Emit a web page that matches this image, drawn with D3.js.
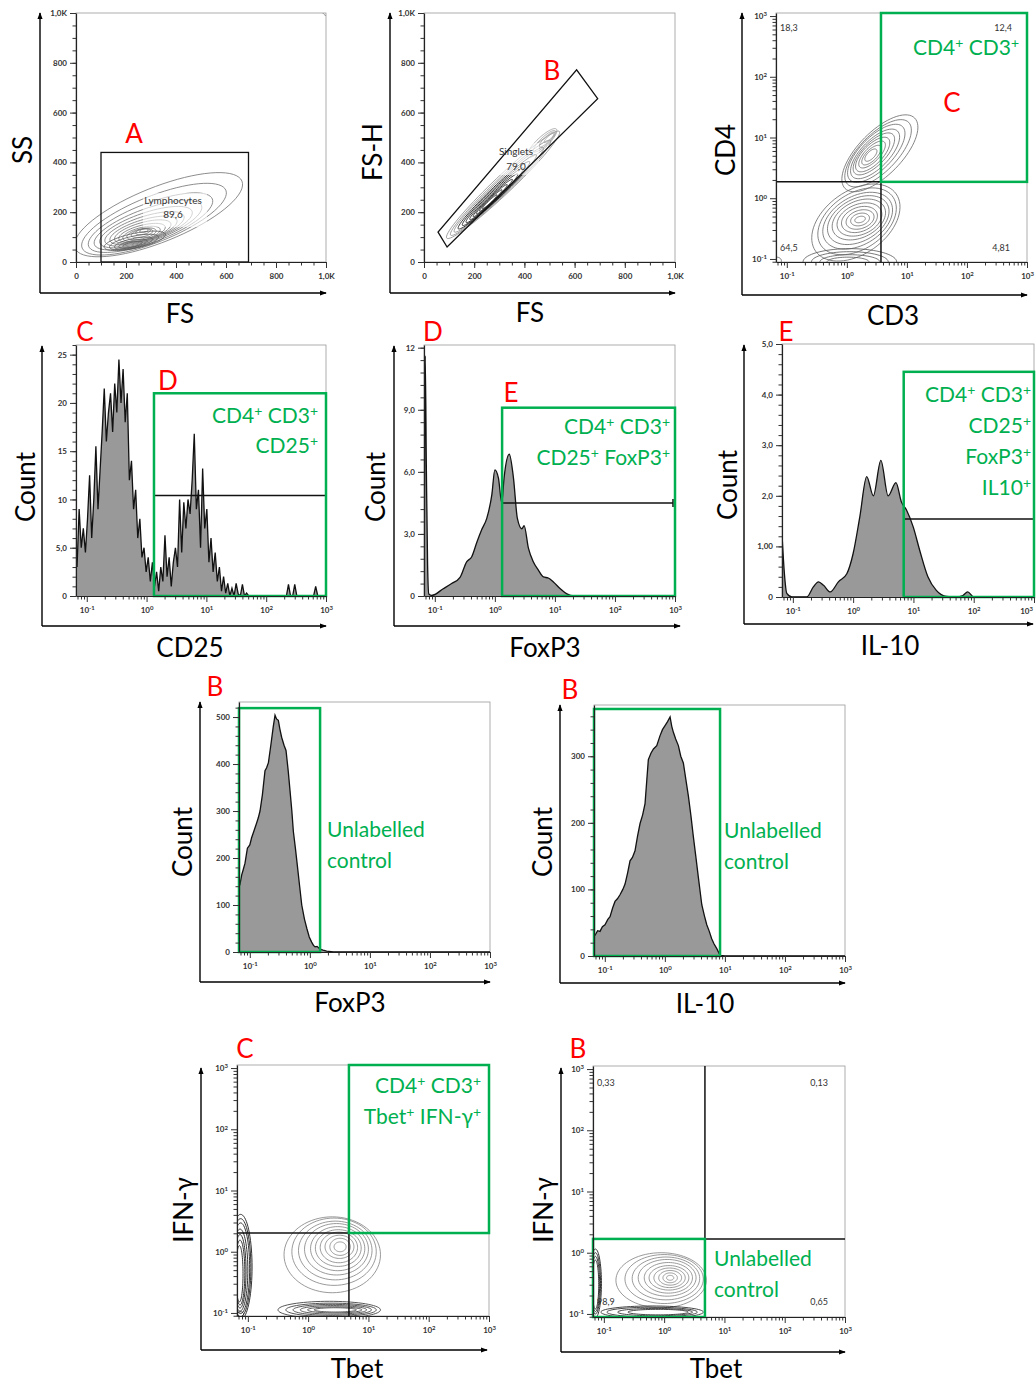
<!DOCTYPE html>
<html>
<head>
<meta charset="utf-8">
<title>Flow cytometry gating</title>
<style>
  body { margin: 0; background: #fff; }
  svg text { font-family: Lato, "Open Sans", sans-serif; }
</style>
</head>
<body>
<script src="https://cdn.jsdelivr.net/npm/d3@7"></script>
<script>

// ---------- values ----------
var linMajor = [0, 200, 400, 600, 800, 1000];
var linMajorLabels = ["0", "200", "400", "600", "800", "1,0K"];
var logMajor = [0.1, 1, 10, 100, 1000];

// gates (data units)
var gateA = [100, 690, 0, 440];                       // FS from,to  SS from,to
var gateB = [[56, 120], [92, 60], [692, 656], [608, 772]];
var cd3Quad = [3.7, 1.86];                            // CD3, CD4 split
var cd25Gate = [1.33, 21, 10.4];                      // from, box top, marker height
var foxp3Gate = [1.32, 9.1, 4.5];
var il10Gate = [6.9, 4.45, 1.54];
var foxp3CtlGate = [1.48, 519];
var il10CtlGate = [8.3, 371];
var tbetQuad = [4.75, 2.02];
var tbetCtlQuad = [4.75, 1.68];

// quadrant percentages
var cd3Pct = ["18,3", "12,4", "64,5", "4,81"];
var tbetCtlPct = ["0,33", "0,13", "98,9", "0,65"];

// contour rings: [centre x, centre y, radius x, radius y, tilt deg]
// FS/SS in linear units, fluorescence panels in log10 units
var fsSsRings = [
  [330, 190, 360, 110, 22], [312, 172, 310, 92, 22], [298, 158, 265, 78, 21],
  [288, 148, 228, 66, 20], [280, 140, 195, 57, 19], [274, 133, 166, 49, 18],
  [270, 127, 140, 42, 17], [267, 122, 117, 36, 16], [264, 117, 96, 30, 15],
  [262, 113, 77, 25, 14], [262, 113, 60, 20, 13], [264, 116, 44, 15, 12],
  [268, 122, 30, 11, 12], [272, 126, 17, 7, 12]
];
var fsSsDense = [
  [235, 85, 125, 30, 12], [232, 80, 100, 24, 12], [230, 76, 78, 18, 12],
  [228, 73, 58, 13, 12], [226, 71, 40, 9, 12]
];
var fsSsCorner = [[1015, 1010, 30, 24, 0], [1015, 1010, 18, 14, 0]];

var singletRings = [
  [315, 310, 310, 36, 43.7], [305, 298, 275, 31, 43.7], [298, 290, 245, 27, 43.7],
  [292, 282, 215, 23, 43.7], [287, 275, 185, 20, 43.7], [282, 268, 158, 17, 43.7],
  [278, 262, 132, 14, 43.7], [274, 257, 108, 11, 43.7], [270, 252, 85, 9, 43.7],
  [266, 247, 62, 7, 43.7], [262, 242, 40, 5, 43.7]
];
var singletUpper = [[470, 478, 80, 22, 44], [480, 485, 60, 16, 44], [490, 492, 42, 11, 44], [498, 498, 26, 7, 44]];

var cd4Upper = [
  [0.55, 0.74, 0.82, 0.36, 45], [0.52, 0.74, 0.72, 0.31, 45], [0.49, 0.74, 0.62, 0.27, 45],
  [0.47, 0.73, 0.53, 0.23, 45], [0.45, 0.73, 0.45, 0.19, 45], [0.43, 0.72, 0.37, 0.16, 45],
  [0.42, 0.72, 0.29, 0.12, 45], [0.41, 0.71, 0.21, 0.09, 45], [0.40, 0.71, 0.13, 0.06, 45]
];
var cd4Lower = [
  [0.15, -0.40, 0.82, 0.52, 35], [0.17, -0.38, 0.72, 0.46, 33], [0.18, -0.37, 0.63, 0.40, 30],
  [0.19, -0.36, 0.55, 0.35, 28], [0.20, -0.35, 0.47, 0.30, 25], [0.21, -0.35, 0.39, 0.25, 22],
  [0.21, -0.35, 0.31, 0.20, 20], [0.22, -0.35, 0.24, 0.15, 18], [0.22, -0.35, 0.16, 0.10, 15],
  [0.22, -0.35, 0.09, 0.05, 15]
];
var cd4Bottom = [
  [0.05, -1.05, 0.78, 0.22, 0], [0.05, -1.05, 0.64, 0.17, 0], [0.05, -1.05, 0.50, 0.12, 0],
  [0.02, -1.05, 0.35, 0.08, 0], [-1.17, -1.03, 0.08, 0.06, 0]
];

var tbetMain = [
  [0.40, -0.05, 0.80, 0.62, 0], [0.43, 0.00, 0.70, 0.55, 0], [0.45, 0.02, 0.61, 0.48, 0],
  [0.47, 0.04, 0.53, 0.42, 0], [0.49, 0.05, 0.45, 0.36, 0], [0.50, 0.06, 0.38, 0.30, 0],
  [0.51, 0.07, 0.31, 0.25, 0], [0.52, 0.08, 0.24, 0.19, 0], [0.53, 0.08, 0.17, 0.14, 0],
  [0.53, 0.08, 0.10, 0.08, 0]
];
var tbetBottom = [
  [0.35, -0.95, 0.85, 0.14, 0], [0.38, -0.95, 0.75, 0.11, 0], [0.40, -0.95, 0.65, 0.09, 0],
  [0.42, -0.95, 0.55, 0.07, 0], [0.44, -0.95, 0.45, 0.05, 0], [0.45, -0.95, 0.35, 0.035, 0]
];
var tbetLeft = [
  [-1.12, -0.25, 0.19, 0.86, 0], [-1.12, -0.26, 0.17, 0.80, 0], [-1.12, -0.27, 0.15, 0.74, 0],
  [-1.13, -0.30, 0.13, 0.67, 0], [-1.13, -0.32, 0.10, 0.60, 0], [-1.13, -0.34, 0.08, 0.53, 0],
  [-1.14, -0.36, 0.06, 0.46, 0], [-1.12, -1.02, 0.05, 0.04, 0]
];

var ctlMain = [
  [-0.05, -0.45, 0.75, 0.45, 0], [0.00, -0.43, 0.65, 0.40, 0], [0.03, -0.42, 0.56, 0.35, 0],
  [0.05, -0.41, 0.48, 0.30, 0], [0.07, -0.41, 0.40, 0.25, 0], [0.08, -0.41, 0.33, 0.20, 0],
  [0.09, -0.41, 0.26, 0.16, 0], [0.10, -0.41, 0.19, 0.12, 0], [0.10, -0.41, 0.12, 0.08, 0],
  [0.10, -0.41, 0.06, 0.04, 0]
];
var ctlBottom = [
  [-0.20, -0.97, 0.85, 0.10, 0], [-0.20, -0.97, 0.75, 0.08, 0], [-0.15, -0.97, 0.62, 0.06, 0],
  [-0.10, -0.97, 0.50, 0.045, 0]
];
var ctlLeft = [
  [-1.14, -0.50, 0.10, 0.56, 0], [-1.14, -0.50, 0.085, 0.50, 0], [-1.14, -0.51, 0.07, 0.45, 0],
  [-1.14, -0.52, 0.055, 0.40, 0]
];

// CD25 histogram: counts in log10 bins starting at -1.18, 0.035 wide
var cd25Start = -1.18, cd25Width = 0.035;
var cd25Counts = [
  3, 9, 5, 7, 4.5, 8, 12.5, 6, 10, 15.5,
  9, 13, 17, 21.5, 16, 19, 21, 17, 22, 19,
  24.5, 20, 23.5, 18, 21, 12, 14, 9, 11, 6,
  8, 4, 5, 2.5, 4, 1.5, 3.5, 1, 2.5, 0.5,
  3, 1.5, 6.3, 2, 4, 1, 3.5, 5, 3, 10,
  4.5, 9.7, 7, 10, 8.5, 12, 16.8, 9, 11, 5,
  13.2, 7, 9, 3.5, 6, 2.5, 4.5, 1.5, 3, 0.5,
  2, 0.3, 1.3, 0, 0.8, 0, 1.3, 0.2, 0, 1.2,
  0, 0.3, 0, 0, 0, 0, 0, 0, 0, 0,
  0, 0, 0, 0, 0, 0, 0, 0, 0, 0,
  0, 1.2, 0, 0, 1.2, 0, 0, 0, 0, 0,
  0, 0, 0, 0, 1.0, 0, 0, 0, 0, 0
];

// smooth histograms: [log10 value, count]
var foxp3Hist = [
  [-1.18, 0], [-1.17, 6], [-1.16, 11.6], [-1.14, 6], [-1.12, 1.5], [-1.1, 0.1], [-1.05, 0.03],
  [-0.86, 0.35], [-0.72, 0.6], [-0.58, 0.9], [-0.47, 1.65], [-0.385, 1.9], [-0.30, 2.6],
  [-0.22, 3.2], [-0.135, 3.75], [-0.05, 4.9], [0.0, 6.1], [0.06, 5.7], [0.115, 4.5],
  [0.153, 5.7], [0.24, 6.85], [0.31, 5.7], [0.375, 3.75], [0.45, 3.25], [0.487, 3.4],
  [0.56, 2.3], [0.64, 1.65], [0.725, 1.25], [0.81, 0.92], [0.89, 0.87], [0.975, 0.68],
  [1.09, 0.35], [1.2, 0.1], [1.31, 0], [3, 0]
];
var il10Hist = [
  [-1.18, 1.25], [-1.14, 0.46], [-1.10, 0.07], [-1.015, 0], [-0.77, 0], [-0.66, 0.2],
  [-0.575, 0.3], [-0.49, 0.23], [-0.38, 0.1], [-0.245, 0.3], [-0.105, 0.46], [0.0, 0.86],
  [0.11, 1.58], [0.225, 2.38], [0.335, 2.0], [0.46, 2.7], [0.58, 2.0], [0.71, 2.26],
  [0.80, 1.88], [0.885, 1.72], [0.995, 1.39], [1.105, 0.92], [1.24, 0.4], [1.38, 0.13],
  [1.55, 0.01], [1.71, 0], [1.82, 0.03], [1.9, 0.1], [2.0, 0], [3, 0]
];
var foxp3CtlHist = [
  [-1.18, 140], [-1.165, 143], [-1.135, 164], [-1.11, 175], [-1.08, 189], [-1.06, 205],
  [-1.04, 221], [-1.0, 228], [-0.97, 243], [-0.93, 258], [-0.885, 275], [-0.86, 285],
  [-0.83, 300], [-0.79, 335], [-0.747, 386], [-0.72, 392], [-0.69, 403], [-0.65, 440],
  [-0.61, 479], [-0.58, 504], [-0.555, 496], [-0.525, 493], [-0.5, 475], [-0.47, 457],
  [-0.43, 440], [-0.397, 429], [-0.36, 385], [-0.33, 343], [-0.3, 300], [-0.275, 257],
  [-0.24, 220], [-0.21, 186], [-0.17, 140], [-0.135, 100], [-0.09, 70], [-0.05, 50],
  [-0.01, 32], [0.03, 21], [0.06, 14], [0.087, 11], [0.12, 12], [0.17, 6], [0.22, 4],
  [0.28, 2], [0.39, 0], [3, 0]
];
var il10CtlHist = [
  [-1.18, 30], [-1.163, 31], [-1.12, 38], [-1.08, 37], [-1.04, 44], [-0.997, 47], [-0.95, 55],
  [-0.913, 59], [-0.87, 72], [-0.83, 82], [-0.79, 86], [-0.747, 92], [-0.70, 100],
  [-0.663, 108], [-0.62, 125], [-0.58, 143], [-0.54, 148], [-0.497, 158], [-0.455, 180],
  [-0.413, 199], [-0.37, 212], [-0.33, 229], [-0.30, 265], [-0.275, 295], [-0.23, 305],
  [-0.19, 311], [-0.135, 316], [-0.08, 331], [-0.04, 340], [0.003, 346], [0.045, 352],
  [0.087, 359], [0.115, 345], [0.142, 336], [0.18, 326], [0.225, 316], [0.265, 300],
  [0.308, 290], [0.35, 265], [0.392, 240], [0.435, 210], [0.475, 179], [0.515, 150],
  [0.558, 118], [0.615, 77], [0.66, 60], [0.698, 47], [0.74, 37], [0.78, 26], [0.82, 18],
  [0.865, 11], [0.92, 1], [1.0, 0], [3, 0]
];

// ---------- drawing ----------
var GREEN = "#00b050", RED = "#ff0000";
var logDomX = [Math.pow(10, -1.18), 1000];
var logDomY = [Math.pow(10, -1.05), Math.pow(10, 3.05)];

var svg = d3.select("body").append("svg").attr("width", 1036).attr("height", 1383);
var defs = svg.append("defs");
defs.append("marker").attr("id", "arrow")
    .attr("viewBox", "0 0 8 6").attr("refX", 7).attr("refY", 3)
    .attr("markerWidth", 7).attr("markerHeight", 6).attr("markerUnits", "userSpaceOnUse")
    .attr("orient", "auto")
  .append("path").attr("d", "M0,0L8,3L0,6Z").attr("fill", "#000");

var clipCount = 0;

function logMinors(dom) {
  var out = [];
  for (var k = -2; k < 3; k++)
    for (var m = 2; m < 10; m++) {
      var v = m * Math.pow(10, k);
      if (v >= dom[0] && v <= dom[1]) out.push(v);
    }
  return out;
}

function axis(g, c, scale, isX, major, labels, minorStep) {
  var make = isX ? d3.axisBottom : d3.axisLeft;
  var pos = isX ? "translate(0," + c.y1 + ")" : "translate(" + c.x0 + ",0)";
  var dom = scale.domain();
  var minors = labels === "log" ? logMinors(dom) : d3.range(dom[0], dom[1] + 1e-9, minorStep);
  g.append("g").attr("transform", pos)
      .call(make(scale).tickValues(minors).tickSize(3.5).tickSizeOuter(0).tickFormat(""))
      .call(s => s.select(".domain").remove())
      .selectAll("line").attr("stroke", "#333");
  var a = g.append("g").attr("transform", pos)
      .call(make(scale).tickValues(major).tickSize(6).tickSizeOuter(0).tickPadding(isX ? 5 : 3)
        .tickFormat((d, i) => labels === "log" ? "" : labels[i]));
  a.attr("font-family", "'Liberation Sans', Arial, sans-serif").attr("font-size", 8)
   .attr("font-weight", "bold").attr("color", "#333");
  a.select(".domain").attr("stroke", "#222").attr("stroke-width", 1.2);
  if (labels === "log") {
    a.selectAll(".tick text").each(function (d) {
      var t = d3.select(this);
      t.append("tspan").text("10");
      t.append("tspan").attr("dy", "-0.45em").attr("font-size", "6px").text(Math.round(Math.log10(d)));
      // the last label sits on the page edge in the IL-10 panel
      if (isX && d === 1000 && c.x1 > 1030) t.attr("x", -8);
    });
  }
}

function panel(c) {
  var x = c.xLog ? d3.scaleLog().domain(logDomX).range([c.x0, c.x1])
                 : d3.scaleLinear().domain(c.xDom).range([c.x0, c.x1]);
  var y = c.yLog ? d3.scaleLog().domain(logDomY).range([c.y1, c.y0])
                 : d3.scaleLinear().domain(c.yDom).range([c.y1, c.y0]);
  var g = svg.append("g");
  var id = "clip" + (++clipCount);
  defs.append("clipPath").attr("id", id).append("rect")
      .attr("x", c.x0).attr("y", c.y0).attr("width", c.x1 - c.x0).attr("height", c.y1 - c.y0);
  g.append("rect").attr("x", c.x0).attr("y", c.y0)
      .attr("width", c.x1 - c.x0).attr("height", c.y1 - c.y0)
      .attr("fill", "none").attr("stroke", "#9a9a9a").attr("stroke-width", 0.8);
  var plot = g.append("g").attr("clip-path", "url(#" + id + ")");
  var over = g.append("g");

  axis(g, c, x, true, c.xLog ? logMajor : linMajor, c.xLog ? "log" : linMajorLabels, 50);
  axis(g, c, y, false, c.yTicks, c.yLabels, c.yMinor);

  // outer arrow axes
  g.append("path").attr("d", "M" + c.ax + "," + c.ay + "V" + c.top)
      .attr("stroke", "#000").attr("stroke-width", 1.4).attr("marker-end", "url(#arrow)");
  g.append("path").attr("d", "M" + c.ax + "," + c.ay + "H" + c.right)
      .attr("stroke", "#000").attr("stroke-width", 1.4).attr("marker-end", "url(#arrow)");

  g.append("text").attr("transform", "translate(" + c.yt[0] + "," + c.yt[1] + ") rotate(-90)")
      .attr("text-anchor", "middle").attr("dominant-baseline", "central")
      .attr("font-size", 26).text(c.yTitle);
  g.append("text").attr("x", c.xt[0]).attr("y", c.xt[1])
      .attr("text-anchor", "middle").attr("dominant-baseline", "central")
      .attr("font-size", 26).text(c.xTitle);
  return {g: g, plot: plot, over: over, x: x, y: y};
}

function ringPath(r, x, y, log) {
  var a = r[4] * Math.PI / 180;
  var pts = d3.range(72).map(function (i) {
    var t = i / 72 * 2 * Math.PI;
    var u = r[0] + r[2] * Math.cos(t) * Math.cos(a) - r[3] * Math.sin(t) * Math.sin(a);
    var v = r[1] + r[2] * Math.cos(t) * Math.sin(a) + r[3] * Math.sin(t) * Math.cos(a);
    return log ? [x(Math.pow(10, u)), y(Math.pow(10, v))] : [x(u), y(v)];
  });
  return d3.line().curve(d3.curveCardinalClosed)(pts);
}

function rings(p, data, log, color, width) {
  p.plot.append("g").selectAll("path").data(data).join("path")
      .attr("d", r => ringPath(r, p.x, p.y, log))
      .attr("fill", "none").attr("stroke", color).attr("stroke-width", width);
}

function hist(p, pts, curve) {
  var xs = d => p.x(Math.pow(10, d[0]));
  p.plot.append("path").datum(pts)
      .attr("d", d3.area().x(xs).y0(p.y(0)).y1(d => p.y(d[1])).curve(curve))
      .attr("fill", "#999");
  p.plot.append("path").datum(pts)
      .attr("d", d3.line().x(xs).y(d => p.y(d[1])).curve(curve))
      .attr("fill", "none").attr("stroke", "#111").attr("stroke-width", 1.3);
}

function rich(sel, str) {
  // every "+" is written as a raised, smaller plus
  var parts = str.split("+");
  parts.forEach(function (s, i) {
    if (s) sel.append("tspan").attr("dy", i > 0 ? "7px" : null).text(s);
    if (i < parts.length - 1)
      sel.append("tspan").attr("font-size", "14px").attr("dy", "-7px").text("+");
  });
}

function greenText(x, y, lines, anchor) {
  lines.forEach(function (s, i) {
    var t = svg.append("text").attr("x", x).attr("y", y[i] + 7)
        .attr("text-anchor", anchor).attr("font-size", 21).attr("fill", GREEN);
    rich(t, s);
  });
}

function redLetter(x, y, s) {
  svg.append("text").attr("x", x).attr("y", y).attr("text-anchor", "middle")
      .attr("dominant-baseline", "central").attr("font-size", 26).attr("fill", RED).text(s);
}

function smallText(x, y, s, anchor, size) {
  svg.append("text").attr("x", x).attr("y", y).attr("text-anchor", anchor || "start")
      .attr("dominant-baseline", "central").attr("font-size", size || 9)
      .attr("font-family", "'Liberation Sans', Arial, sans-serif").attr("fill", "#333").text(s);
}

function greenRect(p, x0, x1, y0, y1) {
  p.over.append("rect").attr("x", Math.min(x0, x1)).attr("y", Math.min(y0, y1))
      .attr("width", Math.abs(x1 - x0)).attr("height", Math.abs(y1 - y0))
      .attr("fill", "none").attr("stroke", GREEN).attr("stroke-width", 2.5);
}

function blackLine(p, x0, y0, x1, y1) {
  p.over.append("line").attr("x1", x0).attr("y1", y0).attr("x2", x1).attr("y2", y1)
      .attr("stroke", "#111").attr("stroke-width", 1.5);
}

var logPanel = {xLog: true, yLog: true, yTicks: logMajor, yLabels: "log"};

// 1. FS / SS
var p1 = panel({x0: 76, x1: 326, y0: 13, y1: 262, xDom: [0, 1000], yDom: [0, 1000],
  yTicks: linMajor, yLabels: linMajorLabels, yMinor: 50,
  ax: 40, ay: 293, top: 13, right: 326, yt: [22, 150], xt: [180, 313], yTitle: "SS", xTitle: "FS"});
rings(p1, fsSsRings, false, "#707070", 0.8);
rings(p1, fsSsDense, false, "#555", 0.8);
rings(p1, fsSsCorner, false, "#777", 0.8);
p1.plot.append("rect").attr("x", 143).attr("y", 193).attr("width", 64).attr("height", 34)
    .attr("fill", "#fff").attr("opacity", 0.6);
p1.over.append("rect").attr("x", p1.x(gateA[0])).attr("y", p1.y(gateA[3]))
    .attr("width", p1.x(gateA[1]) - p1.x(gateA[0])).attr("height", p1.y(gateA[2]) - p1.y(gateA[3]))
    .attr("fill", "none").attr("stroke", "#111").attr("stroke-width", 1.3);
smallText(173, 200, "Lymphocytes", "middle", 10);
smallText(173, 214, "89,6", "middle", 10);
redLetter(134, 133, "A");

// 2. FS / FS-H
var p2 = panel({x0: 424, x1: 675, y0: 13, y1: 262, xDom: [0, 1000], yDom: [0, 1000],
  yTicks: linMajor, yLabels: linMajorLabels, yMinor: 50,
  ax: 390, ay: 293, top: 13, right: 675, yt: [372, 152], xt: [530, 312], yTitle: "FS-H", xTitle: "FS"});
rings(p2, singletRings.slice(0, 3), false, "#888", 0.8);
rings(p2, singletRings.slice(3), false, "#222", 0.9);
rings(p2, singletUpper, false, "#999", 0.8);
p2.plot.append("rect").attr("x", 495).attr("y", 143).attr("width", 44).attr("height", 32)
    .attr("fill", "#fff").attr("opacity", 0.6);
p2.over.append("path")
    .attr("d", d3.line().x(d => p2.x(d[0])).y(d => p2.y(d[1])).curve(d3.curveLinearClosed)(gateB))
    .attr("fill", "none").attr("stroke", "#111").attr("stroke-width", 1.3);
smallText(516, 151, "Singlets", "middle", 10);
smallText(516, 166, "79,0", "middle", 10);
redLetter(552, 70, "B");

// 3. CD3 / CD4
var p3 = panel(Object.assign({x0: 776, x1: 1027, y0: 13, y1: 262,
  ax: 742, ay: 295, top: 13, right: 1027, yt: [725, 150], xt: [893, 315], yTitle: "CD4", xTitle: "CD3"}, logPanel));
rings(p3, cd4Upper, true, "#666", 0.8);
rings(p3, cd4Lower, true, "#666", 0.8);
rings(p3, cd4Bottom, true, "#555", 0.8);
blackLine(p3, p3.x.range()[0], p3.y(cd3Quad[1]), p3.x(cd3Quad[0]), p3.y(cd3Quad[1]));
blackLine(p3, p3.x(cd3Quad[0]), p3.y(cd3Quad[1]), p3.x(cd3Quad[0]), p3.y.range()[0]);
greenRect(p3, p3.x(cd3Quad[0]), p3.x.range()[1], p3.y.range()[1], p3.y(cd3Quad[1]));
smallText(780, 27, cd3Pct[0]);
smallText(1012, 27, cd3Pct[1], "end");
smallText(780, 247, cd3Pct[2]);
smallText(1010, 247, cd3Pct[3], "end");
greenText(1019, [48], ["CD4+ CD3+"], "end");
redLetter(952, 102, "C");

// 4. CD25 histogram
var p4 = panel({x0: 76, x1: 326, y0: 345, y1: 596, xLog: true, yDom: [0, 26],
  yTicks: [0, 5, 10, 15, 20, 25], yLabels: ["0", "5,0", "10", "15", "20", "25"], yMinor: 1,
  ax: 42, ay: 626, top: 346, right: 326, yt: [25, 487], xt: [190, 647], yTitle: "Count", xTitle: "CD25"});
hist(p4, cd25Counts.map((c, i) => [cd25Start + (i + 0.5) * cd25Width, c]), d3.curveLinear);
blackLine(p4, p4.x(cd25Gate[0]), p4.y(cd25Gate[2]), p4.x(1000), p4.y(cd25Gate[2]));
blackLine(p4, p4.x(1000), p4.y(cd25Gate[2]) - 4, p4.x(1000), p4.y(cd25Gate[2]) + 4);
greenRect(p4, p4.x(cd25Gate[0]), p4.x(1000), p4.y(cd25Gate[1]), p4.y(0));
greenText(318, [416, 446], ["CD4+ CD3+", "CD25+"], "end");
redLetter(85, 331, "C");
redLetter(168, 380, "D");

// 5. FoxP3 histogram
var p5 = panel({x0: 424, x1: 675, y0: 345, y1: 596, xLog: true, yDom: [0, 12.13],
  yTicks: [0, 3, 6, 9, 12], yLabels: ["0", "3,0", "6,0", "9,0", "12"], yMinor: 0.6,
  ax: 394, ay: 626, top: 346, right: 680, yt: [375, 487], xt: [545, 647], yTitle: "Count", xTitle: "FoxP3"});
hist(p5, foxp3Hist, d3.curveMonotoneX);
blackLine(p5, p5.x(foxp3Gate[0]), p5.y(foxp3Gate[2]), p5.x(1000) - 2, p5.y(foxp3Gate[2]));
blackLine(p5, p5.x(1000) - 2, p5.y(foxp3Gate[2]) - 4, p5.x(1000) - 2, p5.y(foxp3Gate[2]) + 4);
greenRect(p5, p5.x(foxp3Gate[0]), p5.x(1000), p5.y(foxp3Gate[1]), p5.y(0));
greenText(670, [427, 458], ["CD4+ CD3+", "CD25+ FoxP3+"], "end");
redLetter(433, 331, "D");
redLetter(511, 392, "E");

// 6. IL-10 histogram
var p6 = panel({x0: 782, x1: 1034, y0: 344, y1: 597, xLog: true, yDom: [0, 5],
  yTicks: [0, 1, 2, 3, 4, 5], yLabels: ["0", "1,00", "2,0", "3,0", "4,0", "5,0"], yMinor: 0.2,
  ax: 744, ay: 624, top: 345, right: 1033, yt: [727, 485], xt: [890, 645], yTitle: "Count", xTitle: "IL-10"});
hist(p6, il10Hist, d3.curveMonotoneX);
blackLine(p6, p6.x(il10Gate[0]), p6.y(il10Gate[2]), p6.x(1000), p6.y(il10Gate[2]));
greenRect(p6, p6.x(il10Gate[0]), p6.x(1000), p6.y(il10Gate[1]), p6.y(0));
greenText(1031, [395, 426, 457, 488], ["CD4+ CD3+", "CD25+", "FoxP3+", "IL10+"], "end");
redLetter(786, 331, "E");

// 7. FoxP3 unlabelled control
var p7 = panel({x0: 239, x1: 490, y0: 702, y1: 952, xLog: true, yDom: [0, 532],
  yTicks: [0, 100, 200, 300, 400, 500], yLabels: ["0", "100", "200", "300", "400", "500"], yMinor: 20,
  ax: 200, ay: 982, top: 702, right: 490, yt: [182, 842], xt: [350, 1002], yTitle: "Count", xTitle: "FoxP3"});
hist(p7, foxp3CtlHist, d3.curveLinear);
greenRect(p7, p7.x.range()[0], p7.x(foxp3CtlGate[0]), p7.y(foxp3CtlGate[1]), p7.y(0));
greenText(327, [830, 861], ["Unlabelled", "control"], "start");
redLetter(215, 686, "B");

// 8. IL-10 unlabelled control
var p8 = panel({x0: 594, x1: 845, y0: 705, y1: 956, xLog: true, yDom: [0, 377],
  yTicks: [0, 100, 200, 300], yLabels: ["0", "100", "200", "300"], yMinor: 20,
  ax: 560, ay: 983, top: 705, right: 845, yt: [542, 842], xt: [705, 1003], yTitle: "Count", xTitle: "IL-10"});
hist(p8, il10CtlHist, d3.curveLinear);
greenRect(p8, p8.x.range()[0], p8.x(il10CtlGate[0]), p8.y(il10CtlGate[1]), p8.y(0));
greenText(724, [831, 862], ["Unlabelled", "control"], "start");
redLetter(570, 689, "B");

// 9. Tbet / IFN-γ
var p9 = panel(Object.assign({x0: 237, x1: 489, y0: 1065, y1: 1316,
  ax: 201, ay: 1350, top: 1068, right: 487, yt: [183, 1210], xt: [357, 1368], yTitle: "IFN-γ", xTitle: "Tbet"}, logPanel));
rings(p9, tbetMain, true, "#808080", 0.8);
rings(p9, tbetBottom, true, "#444", 0.9);
rings(p9, tbetLeft, true, "#333", 1);
blackLine(p9, p9.x.range()[0], p9.y(tbetQuad[1]), p9.x.range()[1], p9.y(tbetQuad[1]));
blackLine(p9, p9.x(tbetQuad[0]), p9.y(tbetQuad[1]), p9.x(tbetQuad[0]), p9.y.range()[0]);
greenRect(p9, p9.x(tbetQuad[0]), p9.x.range()[1], p9.y.range()[1], p9.y(tbetQuad[1]));
greenText(481, [1086, 1117], ["CD4+ CD3+", "Tbet+ IFN-γ+"], "end");
redLetter(245, 1048, "C");

// 10. Tbet / IFN-γ unlabelled control
var p10 = panel(Object.assign({x0: 593, x1: 845, y0: 1066, y1: 1317,
  ax: 561, ay: 1352, top: 1068, right: 845, yt: [543, 1210], xt: [716, 1368], yTitle: "IFN-γ", xTitle: "Tbet"}, logPanel));
rings(p10, ctlMain, true, "#808080", 0.8);
rings(p10, ctlBottom, true, "#333", 0.9);
rings(p10, ctlLeft, true, "#333", 1);
blackLine(p10, p10.x(tbetCtlQuad[0]), p10.y.range()[1], p10.x(tbetCtlQuad[0]), p10.y.range()[0]);
blackLine(p10, p10.x(tbetCtlQuad[0]), p10.y(tbetCtlQuad[1]), p10.x.range()[1], p10.y(tbetCtlQuad[1]));
greenRect(p10, p10.x.range()[0], p10.x(tbetCtlQuad[0]), p10.y(tbetCtlQuad[1]), p10.y.range()[0]);
smallText(597, 1082, tbetCtlPct[0]);
smallText(828, 1082, tbetCtlPct[1], "end");
smallText(597, 1301, tbetCtlPct[2]);
smallText(828, 1301, tbetCtlPct[3], "end");
greenText(714, [1259, 1290], ["Unlabelled", "control"], "start");
redLetter(578, 1048, "B");

</script>
</body>
</html>
